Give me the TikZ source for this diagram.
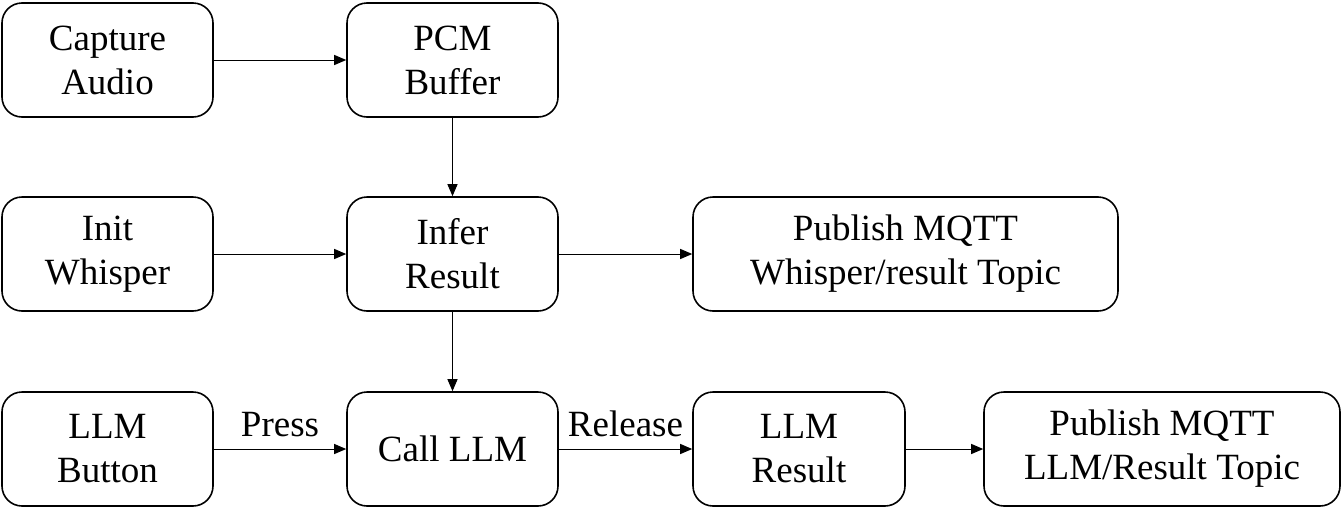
\documentclass[tikz,border=0pt]{standalone}
\usepackage{fontspec}
\setmainfont{Liberation Serif}
\usetikzlibrary{arrows.meta}
\tikzset{
	blk/.style = {draw, line width=1.6pt, rounded corners=20pt, align=center, inner sep=0pt,
		minimum height=114pt, font=\fontsize{37}{44}\selectfont},
	flow/.style = {-{Triangle[length=12pt, width=10pt]}, line width=1pt},
	lbl/.style = {font=\fontsize{37}{44}\selectfont, inner sep=3pt, yshift=9pt}
}
\begin{document}
\begin{tikzpicture}[x=1pt, y=-1pt]
		\useasboundingbox (0, 0) rectangle (1342, 517);
		\node[blk, minimum width=211pt] (capture) at (107.5, 60) {Capture\\Audio};
		\node[blk, minimum width=211pt] (pcm) at (452.5, 60) {PCM\\Buffer};
		\node[blk, minimum width=211pt] (init) at (107.5, 254) {Init\\Whisper};
		\node[blk, minimum width=211pt] (infer) at (452.5, 254) {Infer\\Result};
		\node[blk, minimum width=425pt] (pubw) at (905.5, 254) {Publish MQTT\\Whisper/result Topic};
		\node[blk, minimum width=211pt] (button) at (107.5, 449) {LLM\\Button};
		\node[blk, minimum width=211pt] (call) at (452.5, 449) {Call LLM};
		\node[blk, minimum width=212pt] (llmres) at (799, 449) {LLM\\Result};
		\node[blk, minimum width=356pt] (publ) at (1162, 449) {Publish MQTT\\LLM/Result Topic};
		\draw[flow] (capture) -- (pcm);
		\draw[flow] (pcm) -- (infer);
		\draw[flow] (init) -- (infer);
		\draw[flow] (infer) -- (pubw);
		\draw[flow] (infer) -- (call);
		\draw[flow] (button) -- (call)node[lbl, midway, above]{Press};
		\draw[flow] (call) -- (llmres)node[lbl, midway, above]{Release};
		\draw[flow] (llmres) -- (publ);
	\end{tikzpicture}
\end{document}
